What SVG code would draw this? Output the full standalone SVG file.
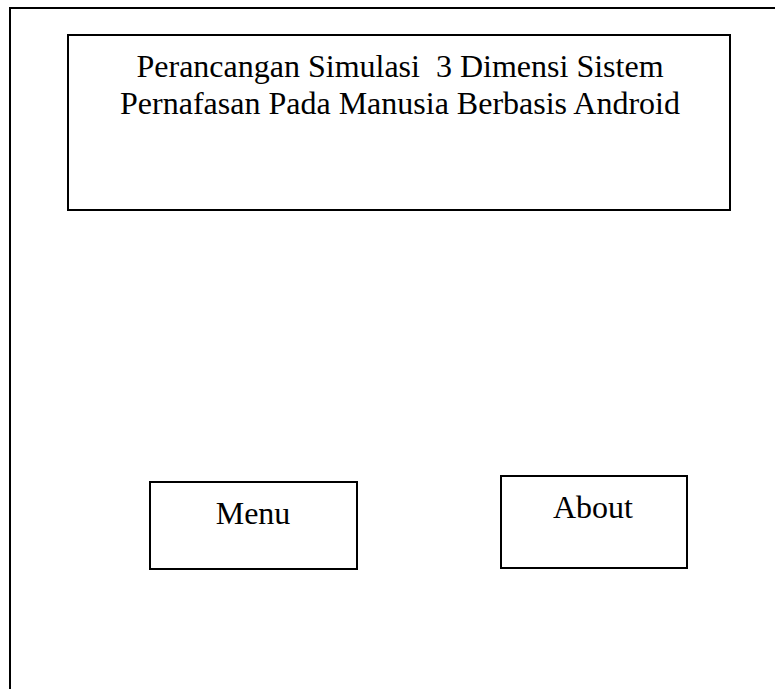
<svg xmlns="http://www.w3.org/2000/svg" width="775" height="689" viewBox="0 0 775 689">
  <style>
    .box { fill: #ffffff; stroke: #000000; stroke-width: 2; }
    .frame { fill: none; stroke: #000000; stroke-width: 2; }
    .label { font-family: "Liberation Serif", "Times New Roman", serif; font-size: 32px; fill: #000000; text-anchor: middle; }
  </style>
  <rect width="775" height="689" fill="#ffffff"/>
  <!-- screen outline -->
  <path class="frame" d="M10 689 V8 H775"/>
  <g id="title">
    <rect class="box" x="68" y="35" width="662" height="175"/>
    <text class="label" x="400" y="77" xml:space="preserve">Perancangan Simulasi  3 Dimensi Sistem</text>
    <text class="label" x="400" y="114">Pernafasan Pada Manusia Berbasis Android</text>
  </g>
  <g id="menu">
    <rect class="box" x="150" y="482" width="207" height="87"/>
    <text class="label" x="253" y="524">Menu</text>
  </g>
  <g id="about">
    <rect class="box" x="501" y="476" width="186" height="92"/>
    <text class="label" x="593" y="518">About</text>
  </g>
  <g id="connectors"/>
</svg>
